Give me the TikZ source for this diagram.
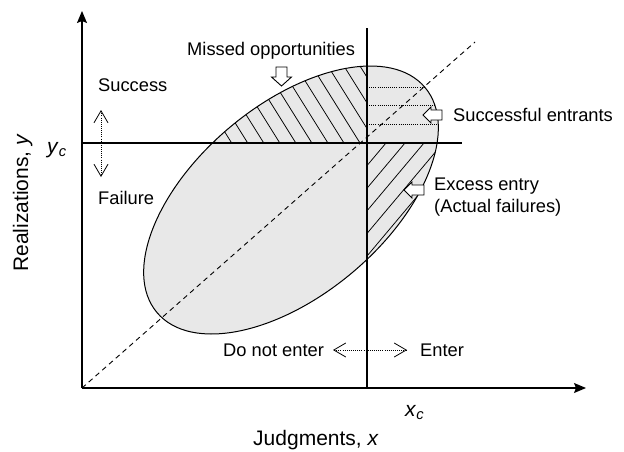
\documentclass[tikz,border=0pt]{standalone}
\usepackage{fontspec}
\setmainfont{Liberation Sans}
\usetikzlibrary{arrows.meta}
\definecolor{ellgray}{RGB}{232,232,232}
\begin{document}
\begin{tikzpicture}[x=1pt,y=-1pt,
  lab/.style={font=\fontsize{18.3}{22}\selectfont, inner sep=0pt, anchor=base west},
  axlab/.style={font=\fontsize{21}{25}\selectfont, inner sep=0pt},
  hatch/.style={line width=0.75pt},
  dotln/.style={line width=0.8pt, dash pattern=on 0.8pt off 1.3pt},
  blk/.style={draw, fill=white, line width=0.9pt, line join=miter},
  dotarrow/.style={line width=0.8pt, dash pattern=on 0.8pt off 1.3pt,
    {Straight Barb[length=12pt,width=14pt,line width=0.8pt]}-{Straight Barb[length=12pt,width=14pt,line width=0.8pt]}},
  axisln/.style={line width=1.1pt, -{Stealth[length=12pt,width=10pt,inset=2pt]}},
  plainln/.style={line width=1.1pt},
  ell/.style={rotate around={40:(C)}},
]
\useasboundingbox (0,0) rectangle (624,451);
% key coordinates
\coordinate (O) at (82,388);
\coordinate (ytip) at (82,11);
\coordinate (xtip) at (586,388);
\coordinate (C) at (291,200);
\coordinate (xct) at (367,28);
\coordinate (xcb) at (367,388);
\coordinate (ycl) at (82,143);
\coordinate (ycr) at (462,143);
\coordinate (dtip) at (475,42);

% ellipse fill
\fill[ellgray, ell] (C) ellipse [x radius=175, y radius=95];

% upper-left hatching (missed opportunities)
\begin{scope}
  \clip[ell] (C) ellipse [x radius=175, y radius=95];
  \clip (82,0) rectangle (367,143);
  \foreach \k in {-3,...,14}
    \draw[hatch] ({360-16.04*\k-100},{143-160}) -- ({360-16.04*\k+100},{143+160});
\end{scope}

% lower-right hatching (excess entry)
\begin{scope}
  \clip[ell] (C) ellipse [x radius=175, y radius=95];
  \clip (367,143) rectangle (480,320);
  \foreach \k in {0,...,6}
    \draw[hatch] ({386+19*\k-100},{143+119}) -- ({386+19*\k+100},{143-119});
\end{scope}

% upper-right dotted lines (successful entrants)
\begin{scope}
  \clip[ell] (C) ellipse [x radius=175, y radius=95];
  \foreach \yy in {87,105.5,124}
    \draw[dotln] (367,\yy) -- (470,\yy);
\end{scope}

% dashed diagonal
\draw[line width=0.9pt, dash pattern=on 5pt off 4pt] (O) -- (dtip);

% ellipse outline
\draw[line width=1pt, ell] (C) ellipse [x radius=175, y radius=95];

% axes and threshold lines
\draw[axisln] (O) -- (ytip);
\draw[axisln] (O) -- (xtip);
\draw[plainln] (xct) -- (xcb);
\draw[plainln] (ycl) -- (ycr);

% block arrows
\coordinate (mtip) at (281.5,86);
\draw[blk] (mtip) -- ++(-10,-9) -- ++(4.5,0) -- ++(0,-10) -- ++(11,0) -- ++(0,10) -- ++(4.5,0) -- cycle;
\coordinate (stip) at (423,115);
\draw[blk] (stip) -- ++(8,-8) -- ++(0,3) -- ++(11,0) -- ++(0,10) -- ++(-11,0) -- ++(0,3) -- cycle;
\coordinate (etip) at (404,190);
\draw[blk] (etip) -- ++(8,-8) -- ++(0,3) -- ++(12,0) -- ++(0,10) -- ++(-12,0) -- ++(0,3) -- cycle;

% dotted double arrows
\coordinate (vs) at (101,110);
\coordinate (vf) at (101,177);
\draw[dotarrow] (vs) -- (vf);
\coordinate (hl) at (333,350);
\coordinate (hr) at (407,350);
\draw[dotarrow] (hl) -- (hr);

% labels
\node[lab] (mo) at (187,55) {Missed opportunities};
\node[lab] (se) at (453,121) {Successful entrants};
\node[lab] (ee) at (434,190) {Excess entry};
\node[lab] (af) at (434,212) {(Actual failures)};
\node[lab] (su) at (98,91.5) {Success};
\node[lab] (fa) at (98,204) {Failure};
\node[lab] (dne) at (223,356.5) {Do not enter};
\node[lab] (en) at (420,356.5) {Enter};

\node[axlab, anchor=base] (jx) at (316,445.5) {Judgments, \textit{x}};
\node[axlab, anchor=base, rotate=90] (ry) at (28,203) {Realizations, \textit{y}};
\node[axlab, anchor=base west] (xc) at (405,416) {\textit{x}\textsubscript{\textit{c}}};
\node[axlab, anchor=base west] (yc) at (47,153.5) {\textit{y}\textsubscript{\textit{c}}};
\end{tikzpicture}
\end{document}
